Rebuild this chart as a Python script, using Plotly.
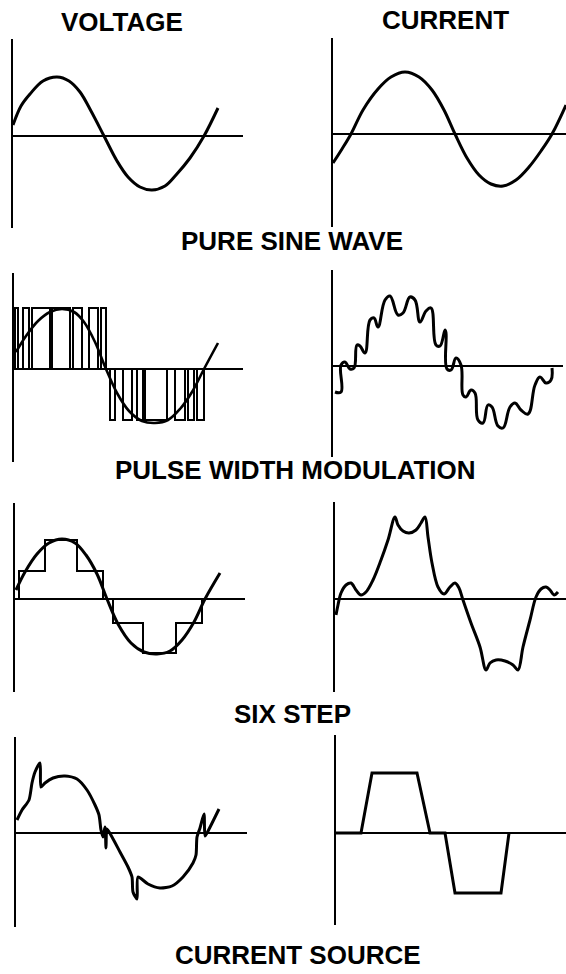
import plotly.graph_objects as go

# ---------------- data (t = time from the vertical axis, v = amplitude above the zero line) -------------
# Pure sine wave
sine_v_t = [0, 8, 17, 30, 44, 56, 67, 78, 91, 104, 115, 127, 139, 152, 163, 177, 191, 205]
sine_v_v = [11, 30, 42, 55, 59, 55, 44, 25, 0, -25, -41, -51, -54, -50, -39, -22, 0, 28]
sine_i_t = [0, 9, 18, 30, 45, 58, 72, 86, 99, 111, 122, 134, 146, 158, 170, 183, 196, 208, 219, 233]
sine_i_v = [-29, -15, 0, 24, 45, 57, 62, 57, 44, 24, 0, -24, -41, -50, -52, -46, -33, -17, 0, 29]

# Pulse width modulation
pwm_ref_t = [2, 12, 24, 36, 48, 60, 70, 81, 92, 103, 115, 128, 141, 154, 166, 178, 190, 204]
pwm_ref_v = [17, 33, 48, 57, 60, 57, 47, 27, 0, -24, -42, -52, -54, -51, -40, -23, 0, 26]
pwm_pos_pulses = [(1, 4), (9, 15), (18, 36), (38, 56), (59, 68), (75, 84), (87, 92)]
pwm_neg_pulses = [(96, 101), (109, 118), (123, 129), (131, 153), (161, 171), (174, 180), (183, 190)]
pwm_pos_level = 61
pwm_neg_level = -51
pwm_i_t = [2, 8, 8, 12, 17, 21, 24, 27, 32, 37, 41, 45, 52, 57, 65, 70, 77, 82, 87, 93, 98,
           103, 107, 112, 113, 114, 118, 123, 128, 130, 133, 138, 142, 145, 150, 155, 159,
           165, 170, 177, 182, 188, 195, 202, 207, 213, 218, 219]
pwm_i_v = [-26, -26, 1, 4, -3, -2, 21, 20, 13, 46, 48, 39, 66, 70, 51, 53, 69, 66, 44, 55, 58,
           21, 20, 36, 33, -3, -4, 8, 1, -29, -31, -24, -27, -54, -57, -39, -41,
           -60, -62, -41, -37, -44, -48, -19, -11, -17, -14, -2]

# Six step
six_ref_t = [1, 10, 22, 34, 47, 60, 71, 82, 92, 103, 116, 129, 142, 155, 167, 179, 190, 205]
six_ref_v = [9, 27, 45, 56, 60, 56, 44, 25, 0, -25, -44, -53, -55, -52, -41, -23, 0, 26]
six_edges = [1, 4, 30, 62, 88, 98, 128, 161, 187, 192]
six_levels = [0, 28, 59, 28, 0, -24, -54, -24, 0]
six_i_t = [1, 3, 6, 11, 16, 21, 26, 31, 38, 46, 53, 60, 63, 68, 74, 81, 86, 90, 93, 97, 103,
           109, 115, 120, 124, 128, 136, 145, 151, 155, 161, 170, 178, 183, 188, 195, 201,
           206, 211, 215, 219, 223]
six_i_v = [-16, -6, 6, 14, 16, 9, 4, 7, 19, 39, 59, 82, 74, 68, 66, 69, 76, 82, 62, 36, 12,
           5, 12, 16, 11, -1, -24, -48, -71, -64, -61, -62, -66, -71, -48, -21, 2,
           10, 12, 9, 4, 7]

# Current source
cs_v_t = [1, 6, 13, 16, 19, 24, 25, 29, 37, 49, 61, 71, 79, 83, 85, 87, 89, 90, 91, 96,
          104, 112, 116, 117, 121, 122, 132, 144, 156, 167, 177, 180, 181, 184, 188, 189,
          191, 203]
cs_v_v = [13, 23, 33, 50, 61, 70, 46, 50, 55, 57, 54, 43, 28, 18, 3, -4, 6, -15, 4, -4,
          -19, -34, -44, -59, -66, -44, -51, -55, -53, -44, -30, -22, -4, 5, 19, -3,
          0, 24]
cs_i_t = [0, 25, 36, 81, 94, 109, 119, 165, 173]
cs_i_v = [0, 0, 60, 60, 0, 0, -60, -60, 0]

column_titles = ["VOLTAGE", "CURRENT"]
row_titles = ["PURE SINE WAVE", "PULSE WIDTH MODULATION", "SIX STEP", "CURRENT SOURCE"]

# ---------------- build step/pulse paths from the data ----------------
def pulses_path(pulses, level):
    xs, ys = [], []
    for a, b in pulses:
        xs += [a, a, b, b, None]
        ys += [0, level, level, 0, None]
    return xs, ys

def steps_path(edges, levels):
    xs, ys = [], []
    for i, lv in enumerate(levels):
        xs += [edges[i], edges[i + 1]]
        ys += [lv, lv]
    return xs, ys

# ---------------- panel geometry (pixels in a 566 x 974 page) ----------------
W, H = 566, 974
# (left x, right x, top y, bottom y, baseline y)
panels = [
    (13, 243, 39, 228, 136),
    (333, 566, 38, 227, 134),
    (14, 243, 273, 462, 369),
    (333, 563, 270, 457, 366),
    (15, 245, 503, 692, 599),
    (335, 566, 502, 692, 599),
    (16, 247, 737, 927, 833),
    (336, 566, 735, 925, 833),
]

fig = go.Figure()
layout = dict(width=W, height=H, margin=dict(l=0, r=0, t=0, b=0),
              paper_bgcolor="white", plot_bgcolor="white", showlegend=False)

for i, (x0, x1, yt, yb, yz) in enumerate(panels):
    n = "" if i == 0 else str(i + 1)
    layout["xaxis" + n] = dict(domain=[x0 / W, x1 / W], range=[0, x1 - x0],
                               showgrid=False, zeroline=False, showline=False,
                               showticklabels=False, ticks="", fixedrange=True,
                               anchor="y" + n)
    layout["yaxis" + n] = dict(domain=[1 - yb / H, 1 - yt / H], range=[-(yb - yz), yz - yt],
                               showgrid=False, zeroline=True, zerolinecolor="black",
                               zerolinewidth=2.2, showline=True, linecolor="black",
                               linewidth=2.4, showticklabels=False, ticks="",
                               fixedrange=True, anchor="x" + n)

def add(x, y, panel, width=3, shape="spline", smoothing=1.0):
    n = "" if panel == 0 else str(panel + 1)
    line = dict(color="black", width=width, shape=shape)
    if shape == "spline":
        line["smoothing"] = smoothing
    fig.add_trace(go.Scatter(x=x, y=y, mode="lines", line=line,
                             xaxis="x" + n, yaxis="y" + n,
                             hoverinfo="skip", showlegend=False, connectgaps=False))

add(sine_v_t, sine_v_v, 0)
add(sine_i_t, sine_i_v, 1)

px, py = pulses_path(pwm_pos_pulses, pwm_pos_level)
add(px, py, 2, width=2, shape="linear")
nx, ny = pulses_path(pwm_neg_pulses, pwm_neg_level)
add(nx, ny, 2, width=2, shape="linear")
add(pwm_ref_t, pwm_ref_v, 2, width=2.6)
add(pwm_i_t, pwm_i_v, 3, width=3, smoothing=1.2)

sx, sy = steps_path(six_edges, six_levels)
add(sx, sy, 4, width=2, shape="linear")
add(six_ref_t, six_ref_v, 4, width=3)
add(six_i_t, six_i_v, 5, width=3, smoothing=1.0)

add(cs_v_t, cs_v_v, 6, width=3, smoothing=0.7)
add(cs_i_t, cs_i_v, 7, width=3, shape="linear")

font = dict(family="Liberation Sans, Arial, sans-serif", size=26, color="black")
title_pos = [(122, 22), (445, 20)]
row_pos = [(292, 241), (295, 470), (292, 714), (298, 955)]
ann = []
for txt, (x, y) in zip(column_titles, title_pos):
    ann.append(dict(text="<b>" + txt + "</b>", x=x / W, y=1 - y / H, xref="paper", yref="paper",
                    showarrow=False, xanchor="center", yanchor="middle", font=font))
for txt, (x, y) in zip(row_titles, row_pos):
    ann.append(dict(text="<b>" + txt + "</b>", x=x / W, y=1 - y / H, xref="paper", yref="paper",
                    showarrow=False, xanchor="center", yanchor="middle", font=font))
layout["annotations"] = ann

fig.update_layout(**layout)
fig.write_html("out.html", config={"displayModeBar": False, "staticPlot": True},
               post_script="document.body.style.margin='0';")
